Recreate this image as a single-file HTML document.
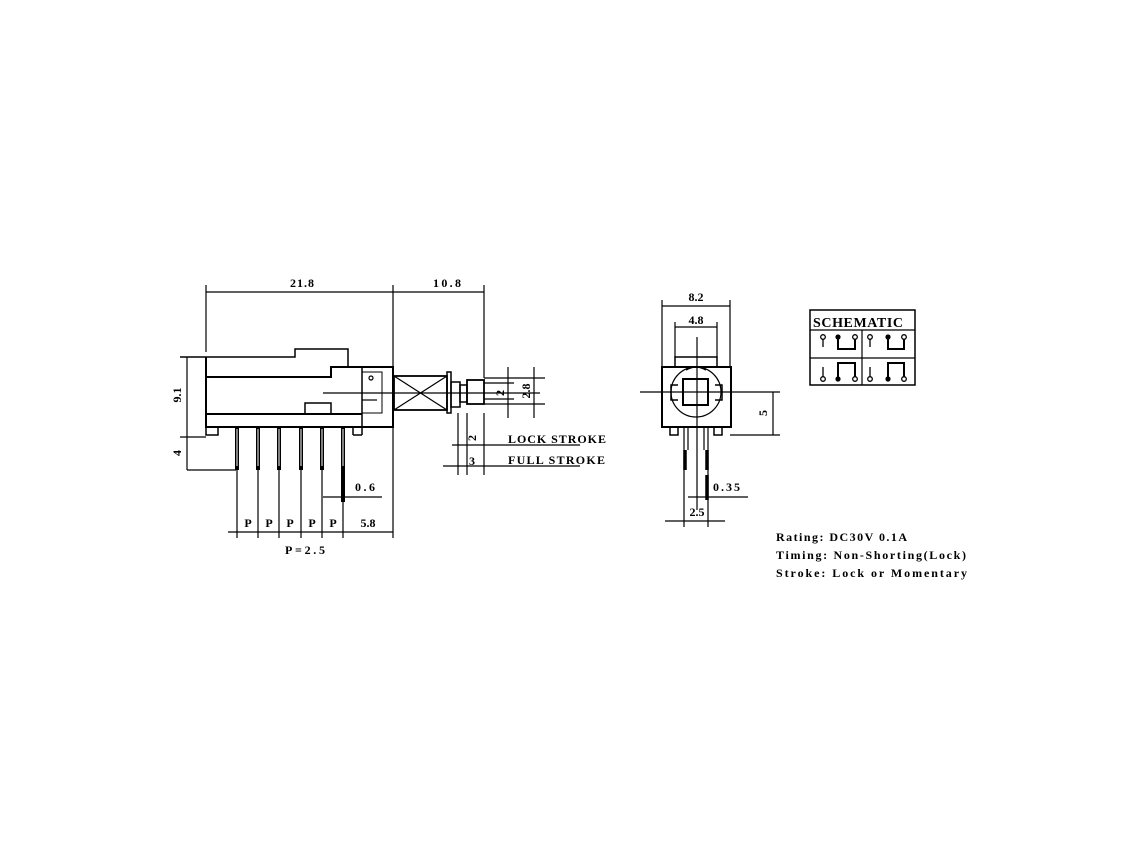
<!DOCTYPE html>
<html><head><meta charset="utf-8"><style>
html,body{margin:0;padding:0;background:#fff;}
svg{display:block;}
text{font-family:"Liberation Serif",serif;fill:#000;font-weight:bold;}
</style></head><body>
<svg width="1140" height="855" viewBox="0 0 1140 855" xmlns="http://www.w3.org/2000/svg">
<g stroke="#000" stroke-width="1.2" fill="none">
<line x1="206" y1="285" x2="206" y2="352"/>
<line x1="393" y1="285" x2="393" y2="538"/>
<line x1="484" y1="285" x2="484" y2="378"/>
<line x1="206" y1="292" x2="484" y2="292"/>
<polyline points="180,357 295,357 295,349 348,349 348,367" stroke-width="1.5"/>
<polyline points="206,377 331,377 331,367 393,367 393,427 206,427 206,357" stroke-width="2"/>
<line x1="206" y1="414" x2="362" y2="414" stroke-width="2"/>
<rect x="305" y="403" width="26" height="11" stroke-width="1.5"/>
<line x1="362" y1="367" x2="362" y2="435" stroke-width="1.5"/>
<rect x="362" y="372" width="20" height="41" stroke-width="1"/>
<line x1="362" y1="400" x2="377" y2="400"/>
<circle cx="371" cy="378" r="2"/>
<rect x="206" y="427" width="12" height="8" stroke-width="1.5"/>
<line x1="353" y1="427" x2="353" y2="435" stroke-width="1.5"/>
<line x1="353" y1="435" x2="362" y2="435" stroke-width="1.5"/>
<line x1="323" y1="393" x2="540" y2="393"/>
<rect x="394" y="376" width="53" height="34" stroke-width="1.8"/>
<line x1="394" y1="376" x2="447" y2="410"/><line x1="394" y1="410" x2="447" y2="376"/>
<rect x="447" y="372" width="4" height="41" stroke-width="1.5"/>
<rect x="451" y="382" width="9" height="25" stroke-width="1.5"/>
<rect x="460" y="385" width="7" height="17" stroke-width="1.5"/>
<rect x="467" y="380" width="17" height="24" stroke-width="1.8"/>
<line x1="484" y1="378" x2="545" y2="378"/>
<line x1="484" y1="404" x2="545" y2="404"/>
<line x1="484" y1="383" x2="514" y2="383"/>
<line x1="484" y1="399" x2="514" y2="399"/>
<line x1="508" y1="367" x2="508" y2="418"/>
<line x1="534" y1="367" x2="534" y2="418"/>
<line x1="458" y1="413" x2="458" y2="475"/>
<line x1="467" y1="413" x2="467" y2="475"/>
<line x1="484" y1="413" x2="484" y2="475"/>
<line x1="452" y1="445" x2="580" y2="445"/>
<line x1="443" y1="466" x2="580" y2="466"/>
<line x1="187" y1="357" x2="187" y2="470"/>
<line x1="180" y1="437" x2="206" y2="437"/>
<line x1="187" y1="470" x2="236" y2="470"/>
<g stroke-width="4">
<line x1="237" y1="427" x2="237" y2="470"/><line x1="258" y1="427" x2="258" y2="470"/>
<line x1="279" y1="427" x2="279" y2="470"/><line x1="301" y1="427" x2="301" y2="470"/>
<line x1="322" y1="427" x2="322" y2="470"/><line x1="343" y1="427" x2="343" y2="470"/>
<line x1="343" y1="470" x2="343" y2="502"/>
</g>
<g stroke="#fff" stroke-width="1">
<line x1="237" y1="429" x2="237" y2="466"/><line x1="258" y1="429" x2="258" y2="466"/>
<line x1="279" y1="429" x2="279" y2="466"/><line x1="301" y1="429" x2="301" y2="466"/>
<line x1="322" y1="429" x2="322" y2="466"/><line x1="343" y1="429" x2="343" y2="466"/>
</g>
<g>
<line x1="237" y1="470" x2="237" y2="538"/><line x1="258" y1="470" x2="258" y2="538"/>
<line x1="279" y1="470" x2="279" y2="538"/><line x1="301" y1="470" x2="301" y2="538"/>
<line x1="322" y1="470" x2="322" y2="538"/><line x1="343" y1="470" x2="343" y2="538"/>
</g>
<line x1="323" y1="497" x2="382" y2="497"/>
<line x1="228" y1="532" x2="393" y2="532"/>
<line x1="662" y1="300" x2="662" y2="366"/><line x1="730" y1="300" x2="730" y2="366"/>
<line x1="662" y1="306" x2="730" y2="306"/>
<line x1="675" y1="322" x2="675" y2="358"/><line x1="717" y1="322" x2="717" y2="358"/>
<line x1="675" y1="327" x2="717" y2="327"/>
<rect x="675" y="357" width="42" height="10" stroke-width="1.5"/>
<rect x="662" y="367" width="69" height="60" stroke-width="2"/>
<circle cx="696" cy="392" r="25" stroke-width="1.2"/>
<rect x="683" y="379" width="25" height="26" stroke-width="2"/>
<polyline points="678,385 671,385 671,400 678,400" stroke-width="1.5"/>
<polyline points="715,385 722,385 722,400 715,400" stroke-width="1.5"/>
<path d="M686,370 Q696,364 706,370" stroke-width="1.5"/>
<line x1="697" y1="337" x2="697" y2="510"/>
<line x1="640" y1="392" x2="780" y2="392"/>
<rect x="670" y="427" width="8" height="8" stroke-width="1.5"/>
<rect x="714" y="427" width="8" height="8" stroke-width="1.5"/>
<line x1="684" y1="427" x2="684" y2="527"/><line x1="708" y1="427" x2="708" y2="527"/>
<line x1="688" y1="427" x2="688" y2="450"/><line x1="704" y1="427" x2="704" y2="450"/>
<g stroke-width="3.5"><line x1="685" y1="450" x2="685" y2="470"/><line x1="707" y1="450" x2="707" y2="470"/><line x1="707" y1="475" x2="707" y2="500"/></g>
<line x1="773" y1="392" x2="773" y2="435"/>
<line x1="730" y1="435" x2="780" y2="435"/>
<line x1="688" y1="497" x2="748" y2="497"/>
<line x1="665" y1="521" x2="725" y2="521"/>
<rect x="810" y="310" width="105" height="75" stroke-width="1.5"/>
<line x1="810" y1="330" x2="915" y2="330"/>
<line x1="810" y1="358" x2="915" y2="358"/>
<line x1="862" y1="330" x2="862" y2="385"/>
<g stroke-width="1.3">
<circle cx="823" cy="337" r="2.3"/><line x1="823" y1="339" x2="823" y2="347"/>
<circle cx="855" cy="337" r="2.3"/>
<polyline points="838,339 838,349 855,349 855,339" stroke-width="2"/>
<circle cx="870" cy="337" r="2.3"/><line x1="870" y1="339" x2="870" y2="347"/>
<circle cx="904" cy="337" r="2.3"/>
<polyline points="888,339 888,349 904,349 904,339" stroke-width="2"/>
<circle cx="823" cy="379" r="2.3"/><line x1="823" y1="377" x2="823" y2="367"/>
<circle cx="855" cy="379" r="2.3"/>
<polyline points="838,377 838,363 855,363 855,377" stroke-width="2"/>
<circle cx="870" cy="379" r="2.3"/><line x1="870" y1="377" x2="870" y2="367"/>
<circle cx="904" cy="379" r="2.3"/>
<polyline points="888,377 888,363 904,363 904,377" stroke-width="2"/>
</g>
</g>
<g fill="#000">
<circle cx="838" cy="337" r="2.6"/><circle cx="888" cy="337" r="2.6"/>
<circle cx="838" cy="379" r="2.6"/><circle cx="888" cy="379" r="2.6"/>
</g>
<g font-size="12">
<text x="290" y="287" textLength="24">21.8</text>
<text x="433" y="287" textLength="28">10.8</text>
<text x="181" y="395" text-anchor="middle" transform="rotate(-90 181 395)">9.1</text>
<text x="181" y="453" text-anchor="middle" transform="rotate(-90 181 453)">4</text>
<text x="504" y="393" text-anchor="middle" transform="rotate(-90 504 393)">2</text>
<text x="530" y="391" text-anchor="middle" transform="rotate(-90 530 391)">2.8</text>
<text x="476" y="438" text-anchor="middle" transform="rotate(-90 476 438)">2</text>
<text x="472" y="465" text-anchor="middle">3</text>
<text x="508" y="443" textLength="98">LOCK STROKE</text>
<text x="508" y="464" textLength="97">FULL STROKE</text>
<text x="355" y="491" textLength="20">0.6</text>
<text x="248" y="527" text-anchor="middle">P</text>
<text x="269" y="527" text-anchor="middle">P</text>
<text x="290" y="527" text-anchor="middle">P</text>
<text x="312" y="527" text-anchor="middle">P</text>
<text x="333" y="527" text-anchor="middle">P</text>
<text x="368" y="527" text-anchor="middle">5.8</text>
<text x="285" y="554" textLength="40">P=2.5</text>
<text x="696" y="301" text-anchor="middle">8.2</text>
<text x="696" y="324" text-anchor="middle">4.8</text>
<text x="767" y="413" text-anchor="middle" transform="rotate(-90 767 413)">5</text>
<text x="713" y="491" textLength="27">0.35</text>
<text x="697" y="516" text-anchor="middle">2.5</text>
<text x="813" y="327" font-size="14" font-weight="normal" textLength="90">SCHEMATIC</text>
<text x="776" y="541" textLength="131">Rating: DC30V 0.1A</text>
<text x="776" y="559" textLength="190">Timing: Non-Shorting(Lock)</text>
<text x="776" y="577" textLength="191">Stroke: Lock or Momentary</text>
</g>
</svg>
</body></html>
